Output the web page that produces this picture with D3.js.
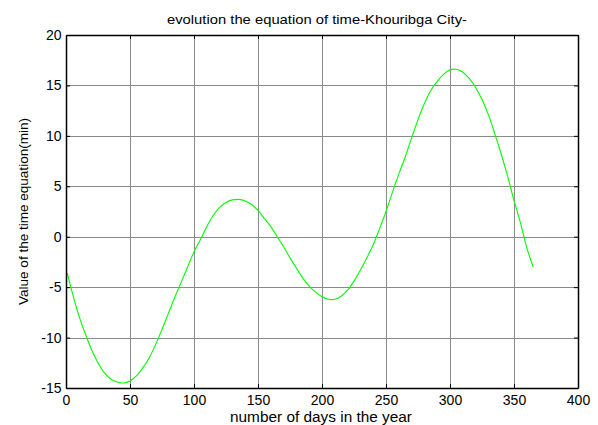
<!DOCTYPE html>
<html>
<head>
<meta charset="utf-8">
<script src="https://cdn.jsdelivr.net/npm/d3@7"></script>
<style>
  body { margin: 0; background: #fff; }
  text { font-family: "Liberation Sans", Arial, sans-serif; fill: #000; }
</style>
</head>
<body>
<div id="chart"></div>
<script>
    // day of year and equation of time (minutes)
    var days = [1, 5, 10, 15, 20, 25, 30, 35, 40, 45, 50, 55, 60, 65, 70, 75, 80, 85, 90, 95,
        100, 105, 110, 115, 120, 125, 130, 135, 140, 145, 150, 155, 160, 165, 170, 175, 180, 185, 190, 195,
        200, 205, 210, 215, 220, 225, 230, 235, 240, 245, 250, 255, 260, 265, 270, 275, 280, 285, 290, 295,
        300, 305, 310, 315, 320, 325, 330, 335, 340, 345, 350, 355, 360, 365];
    var eot = [-3.6, -5.6, -7.8, -9.6, -11.2, -12.5, -13.5, -14.1, -14.4, -14.5, -14.3, -13.8, -13.0, -12.0, -10.7, -9.2, -7.6, -6.0, -4.5, -3.0,
        -1.5, -0.3, 1.0, 2.1, 2.9, 3.4, 3.65, 3.7, 3.55, 3.2, 2.6, 1.8, 1.0, 0.0, -1.0, -2.1, -3.1, -4.1, -4.9, -5.5,
        -5.95, -6.2, -6.2, -5.9, -5.3, -4.4, -3.3, -2.1, -0.8, 0.8, 2.5, 4.4, 6.2, 7.9, 9.8, 11.6, 13.2, 14.5, 15.4, 16.1,
        16.55, 16.6, 16.3, 15.7, 14.8, 13.6, 12.1, 10.2, 8.2, 6.0, 3.6, 1.4, -1.1, -3.0];
    var xTicks = [0, 50, 100, 150, 200, 250, 300, 350, 400];
    var yTicks = [-15, -10, -5, 0, 5, 10, 15, 20];

    var w = 598, h = 425;
    var pLeft = 66, pRight = 578, pTop = 35, pBottom = 388;

    var svg = d3.select("#chart").append("svg")
        .attr("width", w)
        .attr("height", h);

    var x = d3.scaleLinear().domain([0, 400]).range([pLeft, pRight]);
    var y = d3.scaleLinear().domain([-15, 20]).range([pBottom, pTop]);

    // grid
    svg.append("g").selectAll("line")
        .data(xTicks.slice(1, -1))
        .enter().append("line")
        .attr("x1", function (d) { return Math.round(x(d)) + 0.5; })
        .attr("x2", function (d) { return Math.round(x(d)) + 0.5; })
        .attr("y1", pTop).attr("y2", pBottom)
        .style("stroke", "#8a8a8a").style("stroke-width", "1px");
    svg.append("g").selectAll("line")
        .data(yTicks.slice(1, -1))
        .enter().append("line")
        .attr("y1", function (d) { return Math.round(y(d)) + 0.5; })
        .attr("y2", function (d) { return Math.round(y(d)) + 0.5; })
        .attr("x1", pLeft).attr("x2", pRight)
        .style("stroke", "#8a8a8a").style("stroke-width", "1px");

    // curve
    var line = d3.line()
        .x(function (d, i) { return x(days[i]); })
        .y(function (d) { return y(d); })
        .curve(d3.curveCatmullRom);
    svg.append("path")
        .datum(eot)
        .attr("d", line)
        .style("fill", "none")
        .style("stroke", "#00ff00")
        .style("stroke-width", "1.1px");

    // axes, inward ticks on all four sides
    var plain = function (d) { return String(d); };
    var xb = d3.axisBottom(x).tickValues(xTicks).tickSizeInner(-4).tickSizeOuter(0).tickPadding(7).tickFormat(plain);
    var xt = d3.axisTop(x).tickValues(xTicks).tickSizeInner(-4).tickSizeOuter(0).tickFormat("");
    var yl = d3.axisLeft(y).tickValues(yTicks).tickSizeInner(-4).tickSizeOuter(0).tickPadding(4.5).tickFormat(plain);
    var yr = d3.axisRight(y).tickValues(yTicks).tickSizeInner(-4).tickSizeOuter(0).tickFormat("");

    function style(g) {
        g.selectAll("text").style("font-size", "14px")
            .style("font-family", "'Liberation Sans', Arial, sans-serif");
        g.selectAll("line").style("stroke", "#000");
        g.select(".domain").style("stroke", "#000").style("stroke-width", "1.5px");
    }
    svg.append("g").attr("transform", "translate(0," + pBottom + ")").call(xb).call(style);
    svg.append("g").attr("transform", "translate(0," + pTop + ")").call(xt).call(style);
    svg.append("g").attr("transform", "translate(" + pLeft + ",0)").call(yl).call(style);
    svg.append("g").attr("transform", "translate(" + pRight + ",0)").call(yr).call(style);

    // labels
    svg.append("text")
        .attr("x", 317).attr("y", 24)
        .attr("text-anchor", "middle")
        .attr("textLength", 300).attr("lengthAdjust", "spacingAndGlyphs")
        .style("font-size", "13.5px")
        .text("evolution the equation of time-Khouribga City-");
    svg.append("text")
        .attr("x", 321).attr("y", 422)
        .attr("text-anchor", "middle")
        .attr("textLength", 182).attr("lengthAdjust", "spacingAndGlyphs")
        .style("font-size", "14px")
        .text("number of days in the year");
    svg.append("text")
        .attr("transform", "translate(28," + ((pTop + pBottom) / 2) + ") rotate(-90)")
        .attr("text-anchor", "middle")
        .attr("textLength", 187).attr("lengthAdjust", "spacingAndGlyphs")
        .style("font-size", "13px")
        .text("Value of the time equation(min)");
</script>
</body>
</html>
